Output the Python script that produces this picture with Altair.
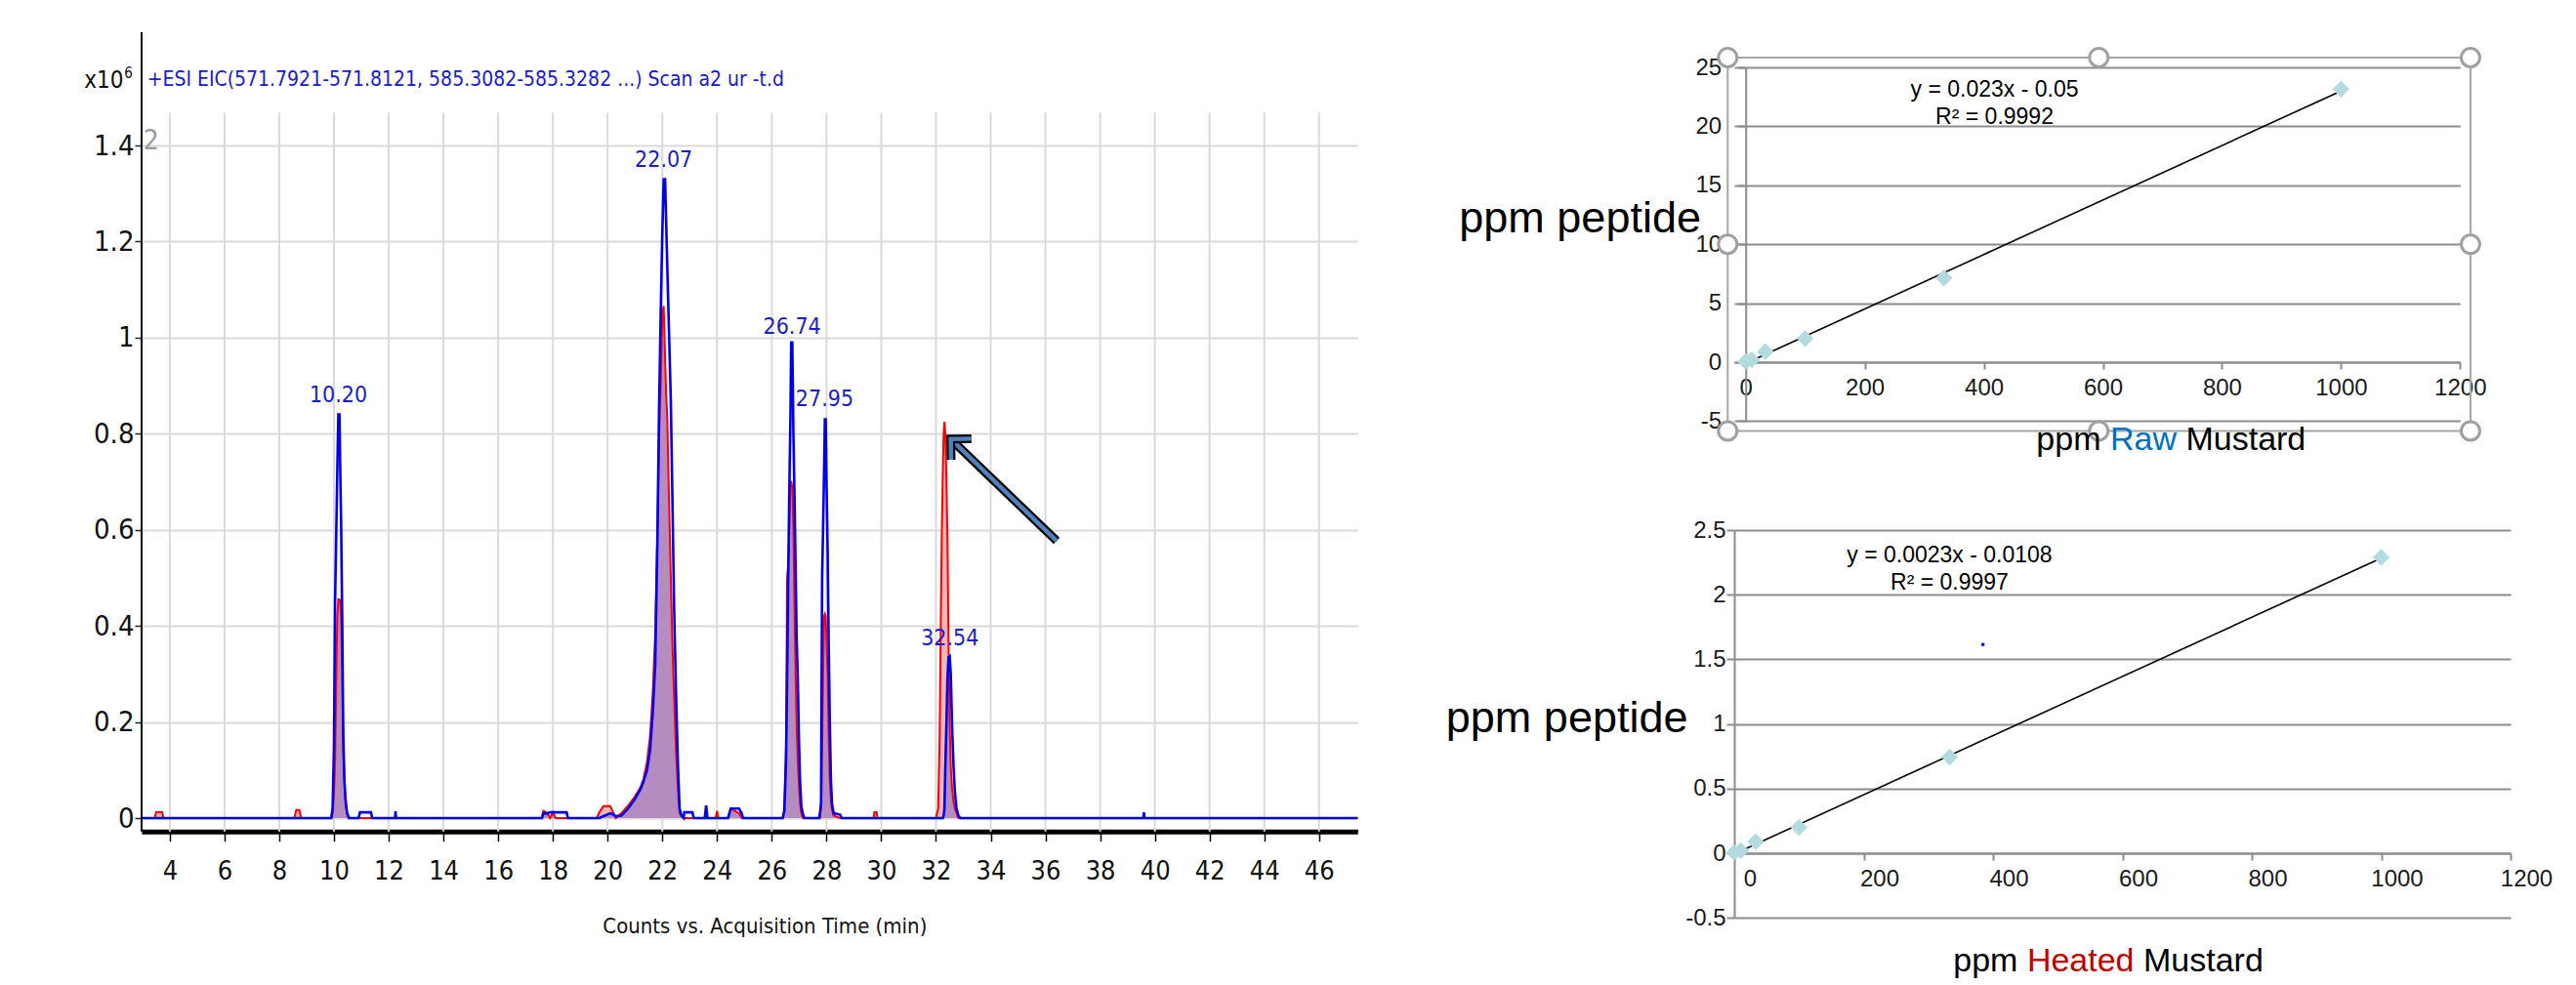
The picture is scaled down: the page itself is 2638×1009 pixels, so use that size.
import altair as alt
import pandas as pd

# ---------------- chromatogram (left panel) ----------------
time_min = [
    2.969, 3.45, 3.5, 3.72, 3.77,
    8.55, 8.62, 8.74, 8.8,
    9.9, 9.95, 10.0, 10.04, 10.08, 10.12, 10.16, 10.2, 10.23, 10.26, 10.3, 10.34, 10.38, 10.42, 10.48, 10.55,
    10.9, 10.95, 11.35, 11.4,
    12.23, 12.25, 12.27,
    17.6, 17.65, 17.8, 17.9, 18.0, 18.1, 18.5, 18.55,
    19.6, 19.7, 19.85, 20.1, 20.2, 20.3,
    20.5, 20.75, 21.0, 21.2, 21.3, 21.44, 21.55, 21.65, 21.74, 21.82, 21.88, 21.95, 22.0, 22.05, 22.1,
    22.14, 22.18, 22.24, 22.31, 22.37, 22.43, 22.5, 22.57, 22.63, 22.7, 22.78,
    22.8, 23.1, 23.15, 23.55, 23.6, 23.65, 23.95, 24.0, 24.05, 24.4, 24.5, 24.8, 24.9, 24.95,
    26.4, 26.46, 26.52, 26.56, 26.6, 26.64, 26.68, 26.71, 26.75, 26.79, 26.83, 26.87, 26.91, 26.95,
    26.99, 27.03, 27.08, 27.14, 27.2,
    27.74, 27.8, 27.84, 27.88, 27.91, 27.94, 27.97, 28.0, 28.04, 28.08, 28.12, 28.16, 28.2, 28.26, 28.5, 28.55,
    29.72, 29.75, 29.83, 29.86,
    32.0, 32.08, 32.13, 32.17, 32.21, 32.25, 32.28, 32.31, 32.34, 32.38, 32.42, 32.46, 32.5, 32.54,
    32.59, 32.64, 32.69, 32.75, 32.82, 32.9,
    39.58, 39.6, 39.62,
    47.41,
]
eic_blue = [
    0, 0, 0, 0, 0,
    0, 0, 0, 0,
    0, 0.02, 0.15, 0.45, 0.58, 0.72, 0.84, 0.84, 0.72, 0.62, 0.42, 0.17, 0.08, 0.04, 0.01, 0,
    0, 0.012, 0.012, 0,
    0, 0.014, 0,
    0, 0.01, 0.01, 0.012, 0.012, 0.012, 0.012, 0,
    0, 0, 0.004, 0.01, 0.008, 0.004,
    0.005, 0.02, 0.04, 0.06, 0.074, 0.10, 0.14, 0.22, 0.32, 0.58, 0.85, 1.08, 1.22, 1.33, 1.33,
    1.24, 1.15, 1.02, 0.87, 0.66, 0.44, 0.26, 0.11, 0.02, 0.005, 0,
    0.012, 0.012, 0, 0, 0.026, 0, 0, 0, 0, 0, 0.02, 0.02, 0.01, 0,
    0, 0.015, 0.12, 0.29, 0.5, 0.68, 0.83, 0.99, 0.99, 0.8, 0.67, 0.52, 0.37, 0.29,
    0.17, 0.08, 0.025, 0.007, 0,
    0, 0.03, 0.5, 0.62, 0.72, 0.83, 0.83, 0.7, 0.56, 0.36, 0.2, 0.08, 0.03, 0.01, 0.007, 0,
    0, 0, 0, 0,
    0, 0, 0, 0, 0, 0, 0.005, 0.02, 0.1, 0.19, 0.29, 0.335, 0.337, 0.3,
    0.19, 0.11, 0.055, 0.02, 0.005, 0,
    0, 0.012, 0,
    0,
]
eic_red = [
    0, 0, 0.012, 0.012, 0,
    0, 0.017, 0.017, 0,
    0, 0.01, 0.05, 0.12, 0.28, 0.42, 0.455, 0.455, 0.45, 0.42, 0.31, 0.15, 0.08, 0.03, 0.01, 0,
    0, 0, 0, 0,
    0, 0, 0,
    0, 0.015, 0.01, 0, 0.012, 0, 0, 0,
    0, 0.012, 0.025, 0.025, 0.012, 0,
    0.01, 0.026, 0.045, 0.064, 0.079, 0.117, 0.17, 0.26, 0.385, 0.6, 0.79, 0.92, 1.05, 1.066, 0.96,
    0.88, 0.836, 0.673, 0.5, 0.36, 0.25, 0.14, 0.06, 0.01, 0.005, 0,
    0, 0, 0, 0, 0, 0, 0, 0.015, 0, 0, 0.02, 0.01, 0, 0,
    0, 0.02, 0.15, 0.5, 0.53, 0.6, 0.7, 0.7, 0.69, 0.6, 0.44, 0.3, 0.19, 0.12,
    0.07, 0.03, 0.01, 0, 0,
    0, 0.02, 0.15, 0.32, 0.42, 0.425, 0.42, 0.37, 0.3, 0.17, 0.08, 0.04, 0.018, 0.005, 0, 0,
    0, 0.012, 0.012, 0,
    0, 0.02, 0.15, 0.37, 0.58, 0.72, 0.80, 0.825, 0.80, 0.71, 0.58, 0.36, 0.2, 0.11,
    0.06, 0.035, 0.02, 0.01, 0, 0,
    0, 0, 0,
    0,
]
assert len(time_min) == len(eic_blue) == len(eic_red)

chrom_x_ticks = [4, 6, 8, 10, 12, 14, 16, 18, 20, 22, 24, 26, 28, 30, 32, 34, 36, 38, 40, 42, 44, 46]
chrom_y_ticks = [0, 0.2, 0.4, 0.6, 0.8, 1, 1.2, 1.4]
chrom_x_domain = [2.969, 47.41]
chrom_y_domain = [-0.0278, 1.5627]
vgrid_span = [-0.0278, 1.468]
yaxis_line_span = [-0.0278, 1.636]

peak_labels = ["10.20", "22.07", "26.74", "27.95", "32.54"]
peak_label_time = [10.16, 22.05, 26.74, 27.93, 32.51]
peak_label_level = [0.865, 1.356, 1.008, 0.858, 0.359]

arrow_time = [36.41, 32.54]
arrow_level = [0.577, 0.789]

chrom_texts = ["+ESI EIC(571.7921-571.8121, 585.3082-585.3282 ...) Scan a2 ur -t.d", "x10", "6", "2"]
chrom_text_time = [3.17, 0.874, 2.337, 3.03]
chrom_text_level = [1.524, 1.521, 1.541, 1.392]
chrom_xtitle = ["Counts vs. Acquisition Time (min)"]
chrom_xtitle_pos = [25.75, -0.2406]

# ---------------- calibration: raw mustard (top right) ----------------
raw_ppm = [0, 10, 33, 100, 333, 1000]
raw_peptide = [0.05, 0.2, 0.9, 2.0, 7.14, 23.15]
raw_x_ticks = [0, 200, 400, 600, 800, 1000, 1200]
raw_y_ticks = [-5, 0, 5, 10, 15, 20, 25]
raw_x_domain = [-19.2, 1200]
raw_y_domain = [-5, 25]
raw_eq = ["y = 0.023x - 0.05", "R² = 0.9992"]
raw_eq_x = [418, 418]
raw_eq_y = [22.52, 20.17]
raw_ylabel_pos = [-75.0, 11.03]
raw_xtitle_pos = [668, -7.48]
handle_x = [-30.2, 593.1, 1217.5, -30.2, 1217.5, -30.2, 593.1, 1217.5]
handle_y = [25.83, 25.83, 25.83, 10.0, 10.0, -5.83, -5.83, -5.83]
frame_x = [-30.2, 1217.5]
frame_y = [-5.83, 25.83]

# ---------------- calibration: heated mustard (bottom right) ----------------
heated_ppm = [0, 10, 33, 100, 333, 1000]
heated_peptide = [0.005, 0.02, 0.09, 0.20, 0.745, 2.289]
heated_x_ticks = [0, 200, 400, 600, 800, 1000, 1200]
heated_y_ticks = [-0.5, 0, 0.5, 1, 1.5, 2, 2.5]
heated_x_domain = [0, 1200]
heated_y_domain = [-0.5, 2.5]
heated_eq = ["y = 0.0023x - 0.0108", "R² = 0.9997"]
heated_eq_x = [332.8, 332.8]
heated_eq_y = [2.249, 2.042]
heated_ylabel_pos = [-71.7, 0.934]
heated_xtitle_pos = [535.4, -0.915]
stray_dot = [384.4, 1.615]

# ---------------- styles ----------------
NARROW = "Liberation Sans Narrow, DejaVu Sans Condensed, Arial Narrow, sans-serif"
ARIAL = "Liberation Sans, Arial, Helvetica, sans-serif"
BLUE = "#0000f0"
LABEL_BLUE = "#1c1cc8"
RED = "#ff0000"
PINK = "#f7b6b9"
PURPLE = "#b58cc0"
LIGHT_GRID = "#dadada"
GRAY = "#8c8c8c"
DIAMOND = "#b1dbdf"

# ================= left chart =================
L_XS = alt.Scale(domain=chrom_x_domain, nice=False, zero=False)
L_YS = alt.Scale(domain=chrom_y_domain, nice=False, zero=False)
L_XAX = alt.Axis(values=chrom_x_ticks, title=None, grid=False, domainColor="black", domainWidth=5,
                 tickColor="black", tickSize=10, tickWidth=1.5, labelFont=NARROW, labelFontSize=27,
                 labelColor="#111111", labelPadding=18, labelFlush=False, labelOverlap=False)
L_YAX = alt.Axis(values=chrom_y_ticks, title=None, grid=True, gridColor=LIGHT_GRID, gridWidth=2,
                 domain=False, tickColor="#222222", tickSize=7, tickWidth=1.5, labelFont=NARROW,
                 labelFontSize=29, labelColor="#111111", labelPadding=1, labelExpr="datum.value + ''")


def LX(f):
    return alt.X(f, type="quantitative", scale=L_XS, axis=L_XAX, title=None)


def LY(f):
    return alt.Y(f, type="quantitative", scale=L_YS, axis=L_YAX, title=None)


chrom = pd.DataFrame({"t": time_min, "blue": eic_blue, "red": eic_red})
vgrid = pd.DataFrame({"t": chrom_x_ticks, "lo": vgrid_span[0], "hi": vgrid_span[1]})
yline = pd.DataFrame({"t": [chrom_x_domain[0]], "lo": [yaxis_line_span[0]], "hi": [yaxis_line_span[1]]})
peaks = pd.DataFrame({"t": peak_label_time, "v": peak_label_level, "label": peak_labels})
arrow = pd.DataFrame({"t0": [arrow_time[0]], "v0": [arrow_level[0]], "t1": [arrow_time[1]], "v1": [arrow_level[1]]})
chrom_txt = pd.DataFrame({"t": chrom_text_time, "v": chrom_text_level, "label": chrom_texts})
xtitle = pd.DataFrame({"t": [chrom_xtitle_pos[0]], "v": [chrom_xtitle_pos[1]], "label": chrom_xtitle})

l_vgrid = alt.Chart(vgrid).mark_rule(color=LIGHT_GRID, strokeWidth=2).encode(
    x=LX("t"), y=LY("lo"), y2="hi:Q")
l_pink = alt.Chart(chrom).mark_area(color=PINK, opacity=1).encode(
    x=LX("t"), y=LY("red"), y2=alt.datum(0))
l_purple = alt.Chart(chrom).transform_calculate(lo="min(datum.blue, datum.red)").mark_area(
    color=PURPLE, opacity=1).encode(x=LX("t"), y=LY("lo"), y2=alt.datum(0))
l_red = alt.Chart(chrom).mark_line(color=RED, strokeWidth=2).encode(x=LX("t"), y=LY("red"))
l_blue = alt.Chart(chrom).mark_line(color=BLUE, strokeWidth=2.6).encode(x=LX("t"), y=LY("blue"))
l_yline = alt.Chart(yline).mark_rule(color="black", strokeWidth=2).encode(x=LX("t"), y=LY("lo"), y2="hi:Q")
l_peaks = alt.Chart(peaks).mark_text(font=NARROW, fontSize=23, color=LABEL_BLUE, align="center",
                                      baseline="alphabetic").encode(x=LX("t"), y=LY("v"), text="label:N")
l_arrow_k = alt.Chart(arrow).mark_rule(color="black", strokeWidth=9).encode(
    x=LX("t0"), y=LY("v0"), x2="t1:Q", y2="v1:Q")
l_arrow_b = alt.Chart(arrow).mark_rule(color="#4f81bd", strokeWidth=4.5).encode(
    x=LX("t0"), y=LY("v0"), x2="t1:Q", y2="v1:Q")
chev = "M-1,-1L0,0L-1,1"
l_head_k = alt.Chart(arrow).mark_point(shape=chev, filled=False, color="black", strokeWidth=9,
                                       size=900, angle=224, opacity=1).encode(x=LX("t1"), y=LY("v1"))
l_head_b = alt.Chart(arrow).mark_point(shape=chev, filled=False, color="#4f81bd", strokeWidth=4.5,
                                       size=900, angle=224, opacity=1).encode(x=LX("t1"), y=LY("v1"))
l_title = alt.Chart(chrom_txt).transform_filter("datum.label != 'x10' && datum.label != '6' && datum.label != '2'").mark_text(
    font=NARROW, fontSize=21, color="#1a1ad0", align="left", baseline="alphabetic").encode(
    x=LX("t"), y=LY("v"), text="label:N")
l_x10 = alt.Chart(chrom_txt).transform_filter("datum.label == 'x10'").mark_text(
    font=NARROW, fontSize=24, color="#111111", align="left", baseline="alphabetic").encode(
    x=LX("t"), y=LY("v"), text="label:N")
l_sup = alt.Chart(chrom_txt).transform_filter("datum.label == '6'").mark_text(
    font=NARROW, fontSize=15, color="#111111", align="left", baseline="alphabetic").encode(
    x=LX("t"), y=LY("v"), text="label:N")
l_two = alt.Chart(chrom_txt).transform_filter("datum.label == '2'").mark_text(
    font=NARROW, fontSize=28, color="#9a9a9a", align="left", baseline="alphabetic").encode(
    x=LX("t"), y=LY("v"), text="label:N")
l_xtitle = alt.Chart(xtitle).mark_text(font=NARROW, fontSize=22, color="#111111", align="center",
                                        baseline="alphabetic").encode(x=LX("t"), y=LY("v"), text="label:N")

left = alt.layer(l_vgrid, l_pink, l_purple, l_red, l_blue, l_yline, l_peaks, l_arrow_k, l_arrow_b,
                 l_head_k, l_head_b, l_title, l_x10, l_sup, l_two, l_xtitle).properties(
    width=1245.3, height=782.7)

# ================= right charts =================
R_COMMON = dict(title=None, labelFont=ARIAL, labelFontSize=24, labelColor="#1a1a1a",
                labelExpr="datum.value + ''", labelFlush=False, labelOverlap=False,
                domainColor=GRAY, domainWidth=2, tickColor=GRAY, tickWidth=2)


def cal_panel(ppm, pep, xt, yt, xdom, ydom, x_off, y_off, x_lab_pad, y_lab_pad, x_lab_offset,
              eq, eqx, eqy, ylab_pos, xtitle_pos, word, word_color, word_dx, w, h, extra=None):
    xs = alt.Scale(domain=xdom, nice=False, zero=False)
    ys = alt.Scale(domain=ydom, nice=False, zero=False)
    xax = alt.Axis(values=xt, orient="bottom", offset=x_off, grid=False, tickSize=7,
                   labelPadding=x_lab_pad, labelOffset=x_lab_offset, **R_COMMON)
    yax = alt.Axis(values=yt, orient="left", offset=y_off, grid=True, gridColor=GRAY, gridWidth=2,
                   tickSize=8, labelPadding=y_lab_pad, **R_COMMON)

    def X(f):
        return alt.X(f, type="quantitative", scale=xs, axis=xax, title=None)

    def Y(f):
        return alt.Y(f, type="quantitative", scale=ys, axis=yax, title=None)

    pts = pd.DataFrame({"ppm": ppm, "peptide": pep})
    eqdf = pd.DataFrame({"x": eqx, "y": eqy, "label": eq})
    ylab = pd.DataFrame({"x": [ylab_pos[0]], "y": [ylab_pos[1]], "label": ["ppm peptide"]})
    xtt = pd.DataFrame({"x": [xtitle_pos[0]], "y": [xtitle_pos[1]]})

    layers = []
    if extra is not None:
        layers += extra(X, Y)
    layers.append(alt.Chart(pts).transform_regression("ppm", "peptide").mark_line(
        color="black", strokeWidth=1.6).encode(x=X("ppm"), y=Y("peptide")))
    layers.append(alt.Chart(pts).mark_point(shape="diamond", filled=True, color=DIAMOND, size=300,
                                            opacity=1).encode(x=X("ppm"), y=Y("peptide")))
    layers.append(alt.Chart(eqdf).mark_text(font=ARIAL, fontSize=23, color="black", align="center",
                                            baseline="alphabetic").encode(x=X("x"), y=Y("y"), text="label:N"))
    layers.append(alt.Chart(ylab).mark_text(font=ARIAL, fontSize=45, color="black", align="right",
                                            baseline="alphabetic").encode(x=X("x"), y=Y("y"), text="label:N"))
    layers.append(alt.Chart(xtt).mark_text(font=ARIAL, fontSize=34, color="black", align="right",
                                           baseline="alphabetic", dx=-word_dx, text="ppm").encode(
        x=X("x"), y=Y("y")))
    layers.append(alt.Chart(xtt).mark_text(font=ARIAL, fontSize=34, color=word_color, align="center",
                                           baseline="alphabetic", text=word).encode(x=X("x"), y=Y("y")))
    layers.append(alt.Chart(xtt).mark_text(font=ARIAL, fontSize=34, color="black", align="left",
                                           baseline="alphabetic", dx=word_dx, text="Mustard").encode(
        x=X("x"), y=Y("y")))
    return alt.layer(*layers).properties(width=w, height=h)


def raw_extra(X, Y):
    fr = pd.DataFrame({"x": [frame_x[0]], "x2": [frame_x[1]], "y": [frame_y[0]], "y2": [frame_y[1]]})
    hd = pd.DataFrame({"x": handle_x, "y": handle_y})
    return [
        alt.Chart(fr).mark_rect(fillOpacity=0, stroke="#a6a6a6", strokeWidth=2).encode(
            x=X("x"), x2="x2:Q", y=Y("y"), y2="y2:Q"),
        alt.Chart(hd).mark_point(shape="circle", filled=True, fill="white", stroke="#a0a0a0",
                                 strokeWidth=3, size=360, opacity=1).encode(x=X("x"), y=Y("y")),
    ]


def heated_extra(X, Y):
    dot = pd.DataFrame({"x": [stray_dot[0]], "y": [stray_dot[1]]})
    return [alt.Chart(dot).mark_square(color="#0000ff", size=10, opacity=1).encode(x=X("x"), y=Y("y"))]


top = cal_panel(raw_ppm, raw_peptide, raw_x_ticks, raw_y_ticks, raw_x_domain, raw_y_domain,
                -60.4, -11.7, 7, 17, 0, raw_eq, raw_eq_x, raw_eq_y, raw_ylabel_pos, raw_xtitle_pos,
                "Raw", "#0070c0", 43.5, 743.3, 362.4, extra=raw_extra)
bottom = cal_panel(heated_ppm, heated_peptide, heated_x_ticks, heated_y_ticks, heated_x_domain,
                   heated_y_domain, -66.2, 0, 7, 1, 16, heated_eq, heated_eq_x, heated_eq_y,
                   heated_ylabel_pos, heated_xtitle_pos, "Heated", "#c00000", 64.3, 795, 397.3,
                   extra=heated_extra)

right = alt.vconcat(top, bottom, spacing=111, bounds="flush")

chart = alt.hconcat(left, right, spacing=385, bounds="flush").properties(
    padding={"left": 78, "top": 23, "right": 5, "bottom": 0},
    background="white",
).configure_view(strokeWidth=0)

chart.save("out.html", embed_options={"renderer": "svg", "actions": False})
